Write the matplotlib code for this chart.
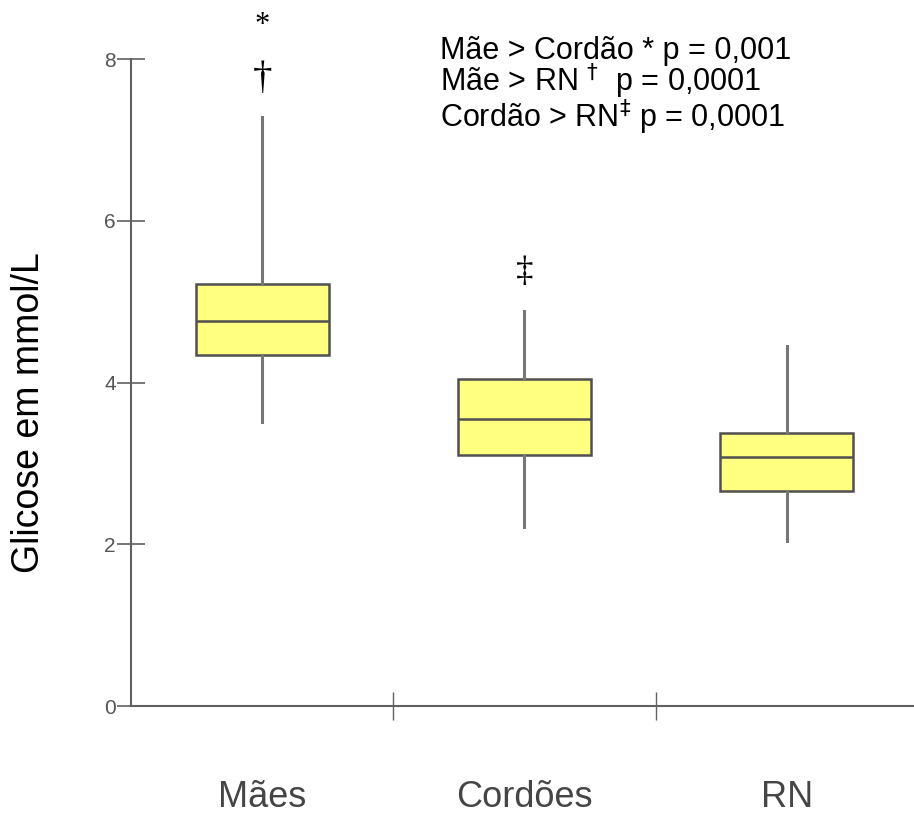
import matplotlib
matplotlib.use("Agg")
import matplotlib.pyplot as plt

categories = ["Mães", "Cordões", "RN"]
whisker_low = [3.51, 2.21, 2.04]
q1 = [4.34, 3.10, 2.66]
median = [4.76, 3.55, 3.08]
q3 = [5.22, 4.04, 3.37]
whisker_high = [7.28, 4.88, 4.45]
yticks = [0, 2, 4, 6, 8]
sig_marks = [("*", 0, 8.42, 22), ("†", 0, 7.76, 28), ("‡", 1, 5.36, 25)]
notes = ["Mãe > Cordão * p = 0,001",
         "Mãe > RN $^{\\dagger}$  p = 0,0001",
         "Cordão > RN$^{\\ddagger}$ p = 0,0001"]

W, H = 914, 816
fig = plt.figure(figsize=(W / 100, H / 100), dpi=100)
ax = fig.add_axes([131 / W, 1 - 706 / H, 1 - 131 / W, (706 - 59) / H])

positions = [1, 2, 3]
stats = []
for i, c in enumerate(categories):
    stats.append(dict(label=c, whislo=whisker_low[i], q1=q1[i], med=median[i],
                      q3=q3[i], whishi=whisker_high[i], fliers=[]))

ax.bxp(stats, positions=positions, widths=0.507, patch_artist=True,
       showcaps=False, showfliers=False,
       boxprops=dict(facecolor="#ffff80", edgecolor="#505050", linewidth=1.8),
       medianprops=dict(color="#505050", linewidth=1.8),
       whiskerprops=dict(color="#777777", linewidth=2.2))

ax.set_xlim(0.5, 3.485)
ax.set_ylim(0, 8)
for s in ["top", "right"]:
    ax.spines[s].set_visible(False)
for s in ["left", "bottom"]:
    ax.spines[s].set_color("#606060")
    ax.spines[s].set_linewidth(1.5)

sans = ["Liberation Sans", "DejaVu Sans"]
ax.set_yticks(yticks)
ax.set_yticklabels([str(v) for v in yticks], family=sans, fontsize=15, color="#555555")
ax.tick_params(axis="y", direction="inout", length=20, width=1.2, color="#606060", pad=1)
ax.set_xticks([1.5, 2.5])
ax.set_xticklabels([])
ax.tick_params(axis="x", direction="inout", length=20, width=1.0, color="#606060")

for i, c in enumerate(categories):
    ax.text(positions[i], -1.13, c, ha="center", va="center", family=sans,
            fontsize=26, color="#454545", clip_on=False)

for sym, i, y, fs in sig_marks:
    ax.text(positions[i], y, sym, ha="center", va="center",
            family=["Liberation Serif", "DejaVu Serif"], fontsize=fs, color="black",
            clip_on=False)

fig.text(440 / W, 1 - 36 / H, "\n".join(notes), ha="left", va="top",
         family=sans, fontsize=22, color="black", linespacing=0.86)

fig.text(29 / W, 1 - 413 / H, "Glicose em mmol/L", rotation=90, ha="center", va="center",
         family=sans, fontsize=27, color="black")

fig.savefig("out.png", dpi=100)
